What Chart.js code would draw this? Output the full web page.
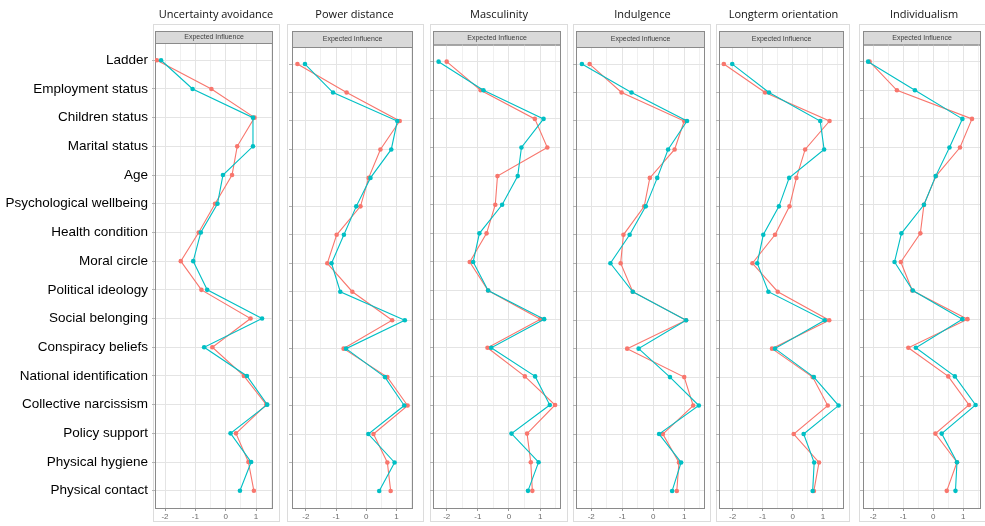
<!DOCTYPE html>
<html>
<head>
<meta charset="utf-8">
<script src="https://cdn.jsdelivr.net/npm/chart.js@4.4.1/dist/chart.umd.min.js"></script>
<style>
  html, body { margin:0; padding:0; background:#fff; }
  #wrap { position:relative; width:985px; height:526px; overflow:hidden; }
  #wrap canvas { position:absolute; left:0; top:0; }
</style>
</head>
<body>
<div id="wrap"></div>
<script>
// ---------- DATA ----------
const categories = ["Ladder","Employment status","Children status","Marital status","Age",
  "Psychological wellbeing","Health condition","Moral circle","Political ideology","Social belonging",
  "Conspiracy beliefs","National identification","Collective narcissism","Policy support",
  "Physical hygiene","Physical contact"];
const panelTitles = ["Uncertainty avoidance","Power distance","Masculinity","Indulgence","Longterm orientation","Individualism"];
const stripLabel = "Expected Influence";
const xTickLabels = [-2, -1, 0, 1];

const uaRed  = [-2.27,-0.47,0.95,0.38,0.21,-0.35,-0.89,-1.48,-0.80,0.82,-0.44,0.60,1.34,0.34,0.75,0.93];
const uaTeal = [-2.13,-1.09,0.90,0.90,-0.09,-0.27,-0.82,-1.07,-0.61,1.20,-0.71,0.70,1.37,0.16,0.84,0.47];
const pdRed  = [-2.28,-0.65,1.11,0.47,0.08,-0.19,-0.98,-1.29,-0.46,0.86,-0.75,0.70,1.37,0.24,0.70,0.81];
const pdTeal = [-2.03,-1.10,1.03,0.83,0.14,-0.33,-0.74,-1.15,-0.86,1.28,-0.67,0.62,1.26,0.07,0.94,0.43];
const maRed  = [-2.00,-0.91,0.83,1.23,-0.37,-0.44,-0.72,-1.26,-0.67,1.01,-0.69,0.51,1.48,0.58,0.70,0.75];
const maTeal = [-2.26,-0.82,1.11,0.40,0.28,-0.22,-0.95,-1.15,-0.67,1.13,-0.57,0.84,1.31,0.08,0.95,0.61];
const inRed  = [-2.05,-1.02,1.00,0.69,-0.11,-0.29,-0.96,-1.05,-0.66,1.06,-0.84,1.00,1.29,0.31,0.83,0.76];
const inTeal = [-2.30,-0.70,1.09,0.48,0.13,-0.24,-0.76,-1.38,-0.66,1.06,-0.47,0.54,1.47,0.19,0.90,0.61];
const ltRed  = [-2.29,-0.92,1.22,0.41,0.12,-0.11,-0.59,-1.34,-0.50,1.21,-0.69,0.66,1.16,0.03,0.87,0.70];
const ltTeal = [-2.01,-0.79,0.91,1.04,-0.12,-0.46,-0.98,-1.18,-0.81,1.06,-0.59,0.70,1.52,0.36,0.71,0.66];
const idRed  = [-2.12,-1.21,1.29,0.89,0.09,-0.31,-0.43,-1.08,-0.70,1.14,-0.83,0.50,1.19,0.07,0.79,0.45];
const idTeal = [-2.17,-0.61,0.97,0.54,0.08,-0.31,-1.06,-1.29,-0.68,0.97,-0.58,0.72,1.41,0.28,0.79,0.74];

const redSeries  = [uaRed, pdRed, maRed, inRed, ltRed, idRed];
const tealSeries = [uaTeal, pdTeal, maTeal, inTeal, ltTeal, idTeal];

// ---------- LAYOUT (page pixels) ----------
const W = 985, H = 526;
const plotBottom = 508, xAxisH = 18;
const frameTop = 24, frameBottom = 521, stripTop = 31;
const panels = [
  { plot:[155,273], top:43,   xr:[-2.33,1.56], frame:[153,279] },
  { plot:[292,413], top:47,   xr:[-2.46,1.55], frame:[287,423] },
  { plot:[433,561], top:44.5, xr:[-2.44,1.67], frame:[430,567] },
  { plot:[576,705], top:47,   xr:[-2.49,1.67], frame:[573,710] },
  { plot:[719,844], top:47,   xr:[-2.45,1.70], frame:[716,849] },
  { plot:[863,983], top:44.5, xr:[-2.34,1.59], frame:[859,995] }
];
const RED = '#F8766D', TEAL = '#00BFC4';

const decor = {
  id: 'decor',
  beforeDraw(chart, args, o) {
    const ctx = chart.ctx, a = chart.chartArea;
    ctx.save();
    ctx.strokeStyle = '#dcdcdc'; ctx.lineWidth = 1;
    ctx.strokeRect(o.frame[0] + 0.5, frameTop + 0.5, o.frame[1] - o.frame[0], frameBottom - frameTop);
    ctx.fillStyle = '#111'; ctx.font = '11px "Open Sans"';
    ctx.textAlign = 'center'; ctx.textBaseline = 'middle';
    ctx.fillText(o.title, (a.left + a.right) / 2 + 2, 15);
    ctx.fillStyle = '#d9d9d9';
    ctx.fillRect(a.left, stripTop, a.right - a.left, a.top - stripTop);
    ctx.strokeStyle = '#8a8a8a';
    ctx.strokeRect(a.left + 0.5, stripTop + 0.5, a.right - a.left - 1, a.top - stripTop);
    ctx.fillStyle = '#404040'; ctx.font = '7px "Liberation Sans"';
    ctx.fillText(stripLabel, (a.left + a.right) / 2, (stripTop + a.top) / 2 + 0.5);
    ctx.restore();
  },
  beforeDatasetsDraw(chart) {
    const ctx = chart.ctx, a = chart.chartArea;
    ctx.save();
    ctx.strokeStyle = '#8a8a8a'; ctx.lineWidth = 1;
    ctx.strokeRect(a.left + 0.5, a.top + 0.5, a.right - a.left - 1, a.bottom - a.top);
    ctx.restore();
  }
};

const wrap = document.getElementById('wrap');
panels.forEach((p, i) => {
  const cv = document.createElement('canvas');
  cv.width = W; cv.height = H;
  cv.style.width = W + 'px'; cv.style.height = H + 'px';
  wrap.appendChild(cv);
  const showLabels = i === 0;
  const yW = showLabels ? p.plot[0] : 0;
  const mk = (vals) => vals.map((v, k) => ({ x: v, y: k }));
  new Chart(cv.getContext('2d'), {
    type: 'scatter',
    data: {
      datasets: [
        { data: mk(tealSeries[i]), showLine: true, borderColor: TEAL, backgroundColor: TEAL,
          borderWidth: 1.1, pointRadius: 2.3, pointBorderWidth: 0, tension: 0 },
        { data: mk(redSeries[i]), showLine: true, borderColor: RED, backgroundColor: RED,
          borderWidth: 1.1, pointRadius: 2.3, pointBorderWidth: 0, tension: 0 }
      ]
    },
    options: {
      responsive: false, maintainAspectRatio: false, animation: false, devicePixelRatio: 1,
      events: [],
      layout: { padding: { left: p.plot[0] - yW, right: W - p.plot[1], top: p.top, bottom: H - plotBottom - xAxisH } },
      plugins: { legend: { display: false }, tooltip: { enabled: false },
        decor: { title: panelTitles[i], frame: p.frame } },
      scales: {
        x: {
          type: 'linear', min: p.xr[0], max: p.xr[1],
          afterFit: s => { s.height = xAxisH; },
          border: { display: false },
          grid: {
            color: c => Number.isInteger(c.tick.value) ? '#e4e4e4' : '#f0f0f0',
            tickColor: c => Number.isInteger(c.tick.value) ? '#999' : 'rgba(0,0,0,0)',
            tickLength: 3, lineWidth: 1
          },
          ticks: {
            stepSize: 0.5, includeBounds: false, autoSkip: false, maxRotation: 0, padding: 1,
            color: '#6b6b6b', font: { family: 'Liberation Sans', size: 8 },
            callback: v => xTickLabels.includes(v) ? String(v) : ''
          }
        },
        y: {
          type: 'linear', reverse: true, min: -0.6, max: categories.length - 0.4,
          afterFit: s => { s.width = yW; },
          border: { display: false },
          grid: { color: '#e4e4e4', tickColor: '#b5b5b5', tickLength: 3 },
          ticks: {
            display: showLabels, stepSize: 1, includeBounds: false, autoSkip: false, padding: 4,
            color: '#000', font: { family: 'Liberation Sans', size: 13.5 },
            callback: v => categories[v] !== undefined ? categories[v] : ''
          }
        }
      }
    },
    plugins: [decor]
  });
});
</script>
</body>
</html>
